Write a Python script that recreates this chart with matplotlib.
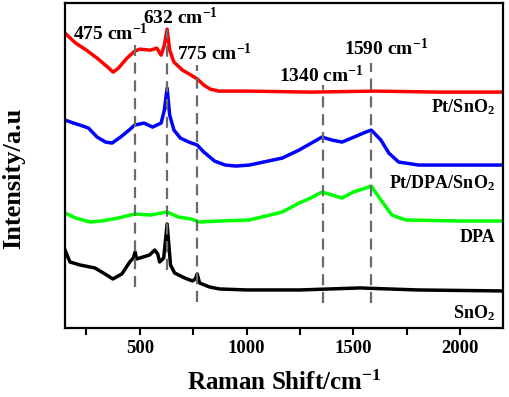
import matplotlib
matplotlib.use("Agg")
import matplotlib.pyplot as plt
from matplotlib.ticker import MultipleLocator, NullLocator

plt.rcParams['font.family'] = ['Liberation Serif', 'DejaVu Serif']
plt.rcParams['font.weight'] = 'bold'
plt.rcParams['mathtext.fontset'] = 'custom'
plt.rcParams['mathtext.rm'] = 'Liberation Serif:bold'
plt.rcParams['mathtext.it'] = 'Liberation Serif:bold'
plt.rcParams['mathtext.bf'] = 'Liberation Serif:bold'

# Data (arbitrary intensity units, already vertically offset)
pt_x = [150, 200, 250, 300, 350, 375, 400, 440, 476, 500, 550, 580, 600, 615, 628, 640,
        660, 700, 740, 770, 800, 830, 870, 1000, 1300, 1600, 1900, 2200]
pt_y = [364, 354, 347, 339, 330, 325, 329, 339, 346, 348, 347, 349, 342, 352, 368, 347,
        335, 327, 322, 318, 312, 308, 306, 306, 305, 306, 305, 305]

ptdpa_x = [150, 190, 220, 260, 300, 340, 370, 410, 450, 476, 520, 560, 600, 615, 628, 640,
           660, 690, 730, 769, 800, 850, 900, 950, 1013, 1167, 1246, 1353, 1400, 1447,
           1503, 1558, 1584, 1629, 1666, 1712, 1806, 2000, 2200]
ptdpa_y = [277, 274, 272, 269, 260, 255, 254, 260, 267, 272, 274, 270, 274, 287, 309, 282,
           267, 259, 255, 252, 245, 236, 232, 231, 232, 239, 247, 260, 257, 255,
           260, 265, 267, 257, 244, 235, 232, 232, 232]

dpa_x = [150, 200, 267, 320, 400, 476, 550, 628, 680, 740, 780, 870, 1013, 1167, 1246,
         1300, 1353, 1400, 1447, 1500, 1558, 1584, 1629, 1680, 1745, 2000, 2200]
dpa_y = [184, 179, 175, 176, 179, 183, 182, 185, 180, 178, 175, 176, 177, 185, 194,
         199, 205, 202, 199, 205, 209, 211, 197, 182, 177, 176, 176]

sno2_x = [150, 173, 220, 290, 337, 374, 416, 453, 470, 478, 485, 546, 570, 584, 593, 612,
          628, 644, 663, 710, 747, 760, 769, 780, 826, 873, 1000, 1250, 1530, 1800, 2200]
sno2_y = [147, 135, 132, 129, 123, 118, 123, 135, 139, 145, 138, 142, 147, 143, 135, 139,
          173, 132, 124, 119, 116, 118, 123, 114, 110, 108, 107, 107, 109, 107, 106]

peak_pos = [476, 628, 769, 1357, 1584]
peak_top = [352, 367, 332, 312, 334]
peak_bot = [110, 127, 95, 94, 94]
peak_labels = ['475 cm$^{-1}$', '632 cm$^{-1}$', '775 cm$^{-1}$', '1340 cm$^{-1}$', '1590 cm$^{-1}$']
peak_label_x = [187, 514, 672, 1153, 1456]
peak_label_y = [357, 373, 337, 315, 342]

series_labels = ['Pt/SnO$_2$', 'Pt/DPA/SnO$_2$', 'DPA', 'SnO$_2$']
series_label_y = [285, 209, 155, 79]

fig = plt.figure(figsize=(5.10, 3.97), dpi=100)
ax = fig.add_axes([0.1275, 0.174, 0.8585, 0.818])

for xs, ys, c in [(pt_x, pt_y, '#ff0000'), (ptdpa_x, ptdpa_y, '#0000ff'),
                  (dpa_x, dpa_y, '#00ff00'), (sno2_x, sno2_y, '#000000')]:
    ax.plot(xs, ys, color=c, lw=2.5, zorder=2)

for p, t, b in zip(peak_pos, peak_top, peak_bot):
    ax.plot([p, p], [b, t], color='#6a6a6a', lw=1.6, linestyle=(0, (5, 3)), zorder=3)

for s, x, y in zip(peak_labels, peak_label_x, peak_label_y):
    ax.text(x, y, s, fontsize=14, fontweight='bold', ha='left', va='baseline')

for s, y in zip(series_labels, series_label_y):
    ax.text(2165, y, s, fontsize=13, fontweight='bold', ha='right', va='baseline')

ax.set_xlim(150, 2200)
ax.set_ylim(69, 394)
ax.xaxis.set_major_locator(MultipleLocator(500))
ax.xaxis.set_minor_locator(MultipleLocator(250))
ax.yaxis.set_major_locator(NullLocator())
ax.tick_params(axis='x', which='both', direction='out', width=1.5, labelsize=13.5)
ax.tick_params(axis='x', which='major', length=5)
ax.tick_params(axis='x', which='minor', length=5)
for lab in ax.get_xticklabels():
    lab.set_fontweight('bold')
for sp in ax.spines.values():
    sp.set_linewidth(1.6)

ax.set_xlabel('Raman Shift/cm$^{-1}$', fontsize=18, fontweight='bold', labelpad=10)
ax.set_ylabel('Intensity/a.u', fontsize=19, fontweight='bold', labelpad=8)
ax.yaxis.set_label_coords(-0.09, 0.46)

fig.savefig('out.png', dpi=100)
